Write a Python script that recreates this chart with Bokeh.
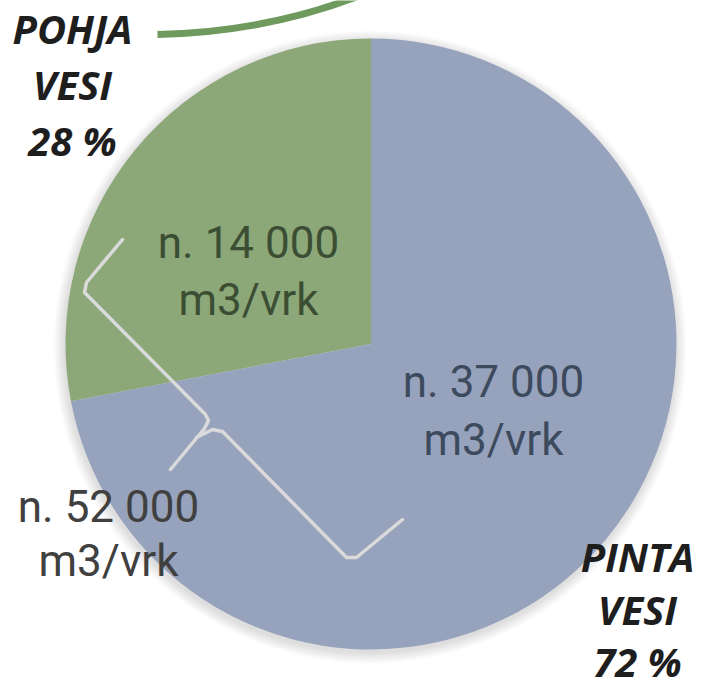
import math
from bokeh.plotting import figure
from bokeh.models import Range1d
from bokeh.core.properties import value
from bokeh.embed import file_html
from bokeh.resources import INLINE

# ---- data ----
categories = ["POHJA\nVESI", "PINTA\nVESI"]
shares = [28, 72]                 # percent
volumes = [14000, 37000]          # m3/vrk
total_volume = 52000              # m3/vrk
slice_colors = ["#8CA878", "#97A3BC"]
value_text_colors = ["#3B4E33", "#3D4A5E"]

W, H = 704, 692
p = figure(width=W, height=H, output_backend="svg", toolbar_location=None,
           x_range=Range1d(0, W), y_range=Range1d(0, H),
           min_border=0, outline_line_color=None)
p.axis.visible = False
p.grid.visible = False
p.background_fill_color = "white"
p.border_fill_color = "white"

def sy(y):
    return H - y

cx, cy, R = 370.5, 343.5, 305.5

# soft shadow
for k in range(1, 12):
    p.circle(x=cx - 1, y=sy(cy + 3), radius=R + k, fill_color="black",
             fill_alpha=0.012, line_color=None)

# pie wedges from the data
start = math.pi / 2
tot = sum(shares)
for s, col in zip(shares, slice_colors):
    end = start + 2 * math.pi * s / tot
    p.wedge(x=cx, y=sy(cy), radius=R, start_angle=start, end_angle=end,
            fill_color=col, line_color=None)
    start = end

# green connector curve at top
p.quadratic(x0=157, y0=sy(34), x1=357, y1=sy(-4), cx=262, cy=sy(32),
            line_color="#6F9A5D", line_width=7)

# light brace
brace_a_x = [122, 86, 84, 205, 208, 204, 170]
brace_a_y = [239, 282, 292, 414, 420, 428, 469]
p.line(x=brace_a_x, y=[sy(v) for v in brace_a_y], line_color="#DADADA",
       line_width=3.5, line_join="round", line_cap="round")
brace_b_x = [196, 212, 222, 346, 356, 402]
brace_b_y = [437, 429, 431, 557, 557, 519]
p.line(x=brace_b_x, y=[sy(v) for v in brace_b_y], line_color="#DADADA",
       line_width=3.5, line_join="round", line_cap="round")

def fmt(v):
    return "n. " + f"{v:,}".replace(",", " ")

bold_font = value("Open Sans")
# category labels (y = visual line position)
cat_pos = [(72, [28, 84, 140]), (637, [556, 609, 661])]
for cat, s, (x, ys) in zip(categories, shares, cat_pos):
    lines = cat.split("\n") + [f"{s} %"]
    p.text(x=[x] * 3, y=[sy(v) for v in ys], text=lines,
           text_font=bold_font, text_font_style="bold italic",
           text_font_size="40px", text_color="#1E1E1E",
           text_align="center", text_baseline="alphabetic")

# value labels
num_font = value("Roboto")
val_pos = [(248, [242, 299]), (493, [381, 439])]
for v, col, (x, ys) in zip(volumes, value_text_colors, val_pos):
    p.text(x=[x, x], y=[sy(ys[0]), sy(ys[1])], text=[fmt(v), "m3/vrk"],
           text_font=num_font, text_font_size="44px", text_color=col,
           text_align="center", text_baseline="alphabetic")

p.text(x=[108, 108], y=[sy(506), sy(560)], text=[fmt(total_volume), "m3/vrk"],
       text_font=num_font, text_font_size="44px", text_color="#404040",
       text_align="center", text_baseline="alphabetic")

open("out.html", "w").write(file_html(p, INLINE))
